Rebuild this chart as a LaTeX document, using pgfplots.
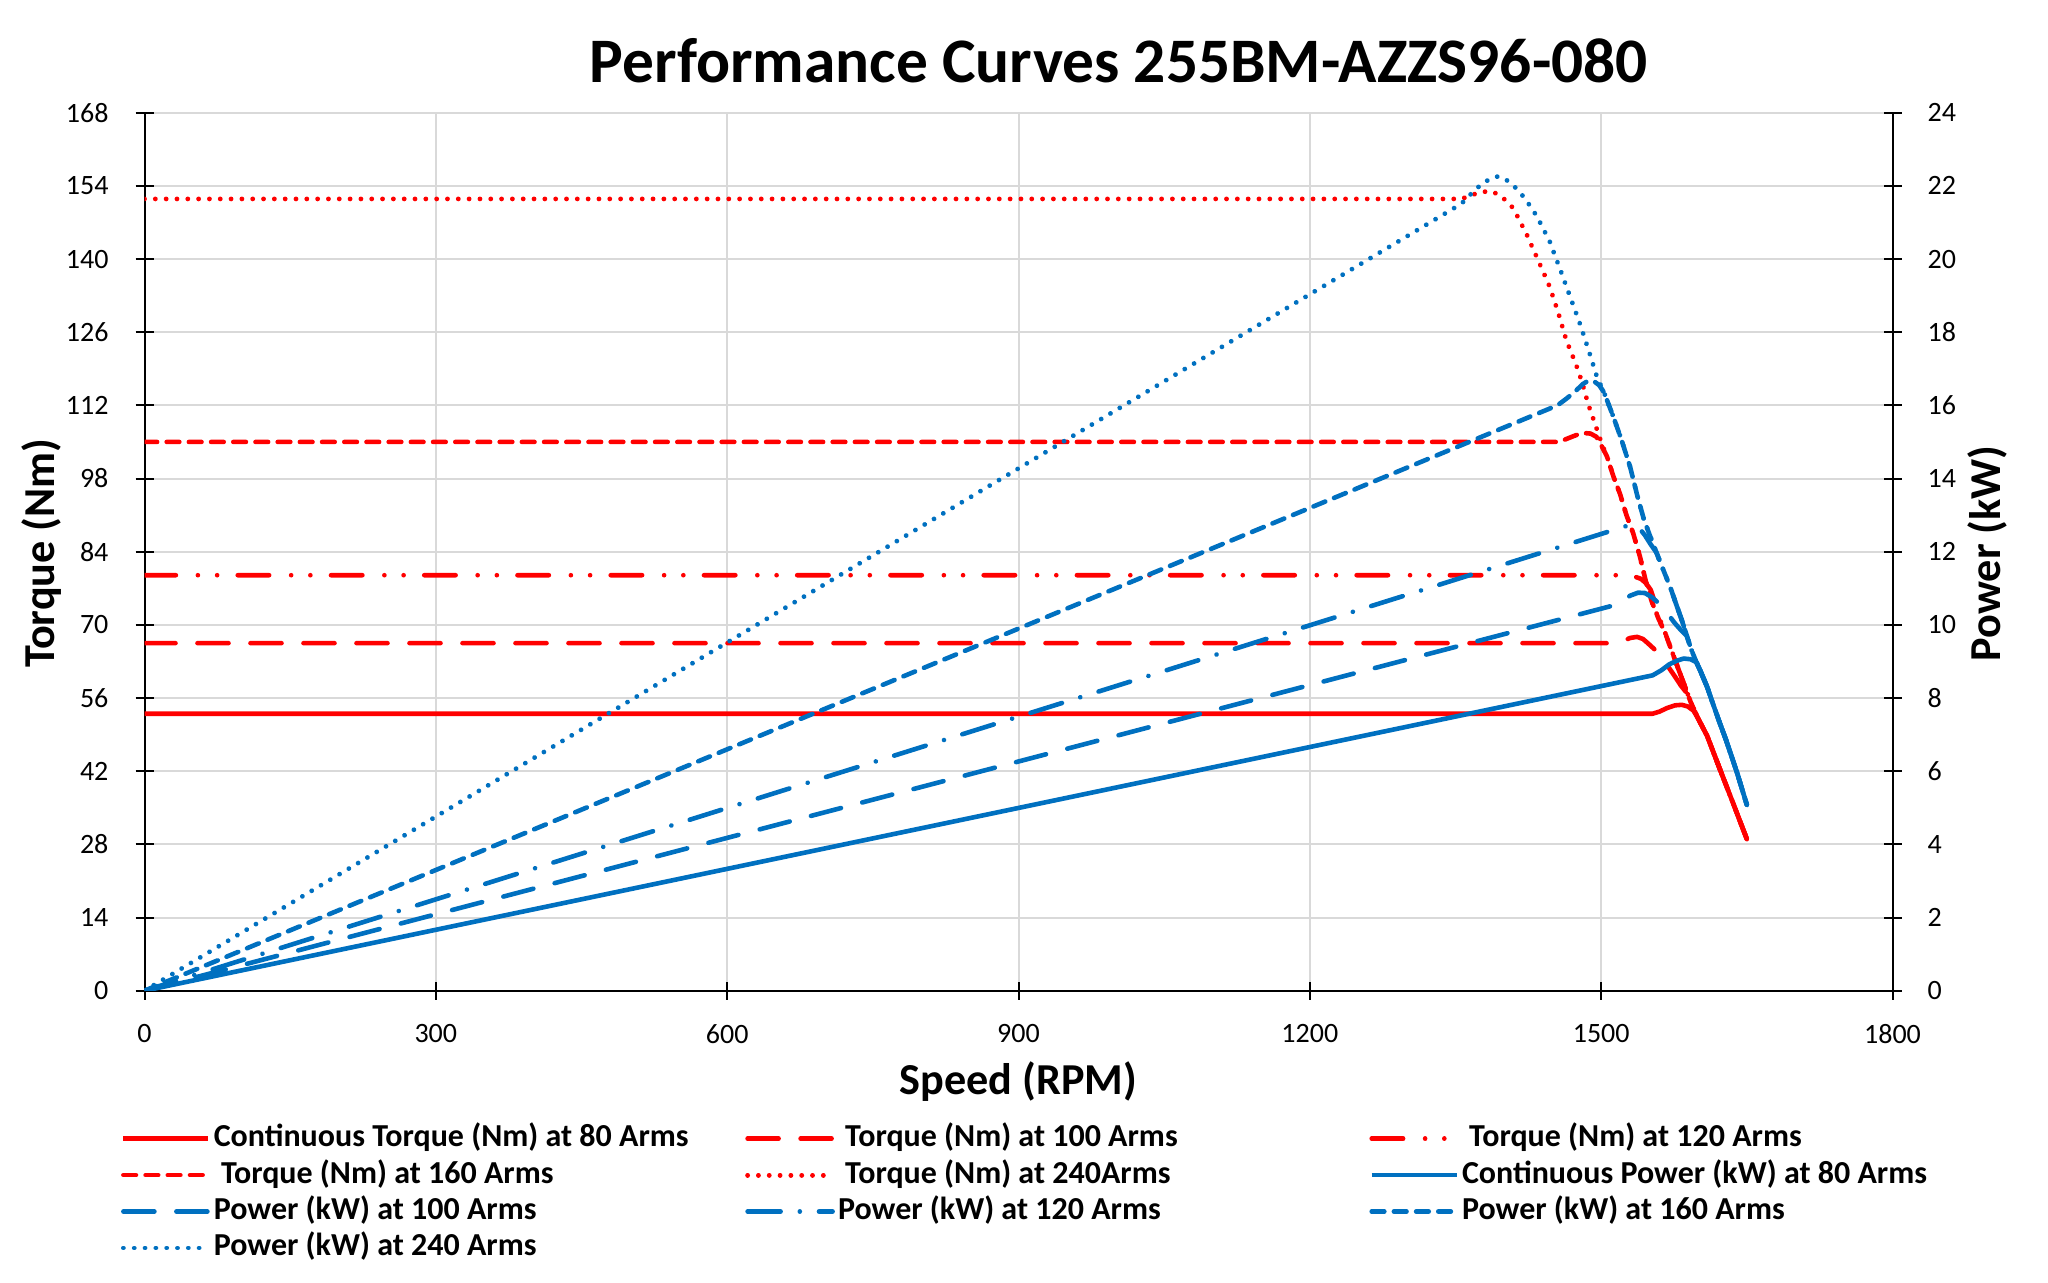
\documentclass[border=0pt]{standalone}
\usepackage{fontspec}
\setmainfont{Carlito}
\usepackage{pgfplots}
\pgfplotsset{compat=1.18}

\definecolor{tred}{HTML}{FF0000}
\definecolor{pblue}{HTML}{0070C0}
\definecolor{gridgray}{HTML}{D9D9D9}

\tikzset{
  s80/.style={line width=2.3pt, line join=round},
  s100/.style={line width=2.3pt, line cap=round, line join=round, dash pattern=on 15.5pt off 11pt},
  s120t/.style={line width=2.3pt, line cap=round, line join=round, dash pattern=on 15.7pt off 11pt on 0.01pt off 9.6pt on 0.01pt off 10.3pt},
  s120p/.style={line width=2.3pt, line cap=round, line join=round, dash pattern=on 16.5pt off 9.6pt on 0.01pt off 9.6pt},
  s160/.style={line width=2.3pt, line cap=round, line join=round, dash pattern=on 6.3pt off 4.8pt},
  s240/.style={line width=2.4pt, line cap=round, line join=round, dash pattern=on 0.01pt off 5.4pt},
}

\pgfplotsset{
  common/.style={
    scale only axis, width=874pt, height=439pt,
    xmin=0, xmax=1800,
    axis line style={-, line width=1pt, black},
    tick align=center, major tick length=9pt,
    tick style={line width=1pt, black},
    tick label style={font=\fontsize{14}{16}\selectfont},
    /pgf/number format/assume math mode=true,
    /pgf/number format/1000 sep={},
  },
}

\newcommand{\lbl}[1]{\makebox[265.7pt][l]{#1}}

\begin{document}
\begin{tikzpicture}
% torque (left axis)
\begin{axis}[common, name=tq,
    ymin=0, ymax=168,
    xtick={0,300,...,1800}, ytick={0,14,...,168},
    axis x line*=bottom, axis y line*=left,
    grid=major, major grid style={line width=1pt, gridgray},
    xticklabel style={yshift=-9pt},
    yticklabel style={xshift=-10pt},
]
\addplot[tred, s80] coordinates {(0,53) (1553,53) (1560,53.4) (1568,54.1) (1576,54.6) (1583,54.7) (1589,54.4) (1595,53.6) (1600,52.0) (1609,48.8) (1622,42.5) (1636,35.8) (1650,29.0)};
\addplot[tred, s100] coordinates {(0,66.5) (1514,66.5) (1522,66.9) (1530,67.5) (1537,67.7) (1543,67.3) (1548,66.5) (1555,65.3) (1562,63.9) (1569,62.0) (1576,60.1) (1582,58.4) (1588,57.0) (1592,55.3) (1600,52.0) (1609,48.8) (1622,42.5) (1636,35.8) (1650,29.0)};
\addplot[tred, s120t] coordinates {(0,79.5) (1521,79.5) (1528,79.4) (1535,79.2) (1541,78.8) (1546,78.0) (1551,76.7) (1555,74.5) (1559,72.0) (1563,69.8) (1566,68.4) (1576,63.3) (1585,58.8) (1592,55.3) (1600,52.0) (1609,48.8) (1622,42.5) (1636,35.8) (1650,29.0)};
\addplot[tred, s160] coordinates {(0,105) (1454,105) (1462,105.4) (1470,106.0) (1477,106.5) (1483,106.7) (1489,106.6) (1495,106.0) (1500,104.4) (1506,102.2) (1512.6,98.4) (1519.5,95.0) (1526,91.0) (1533,87.5) (1540,83.0) (1546,78.3) (1552,74.5) (1559,71.2) (1566,68.4) (1576,63.3) (1585,58.8) (1592,55.3) (1600,52.0) (1609,48.8) (1622,42.5) (1636,35.8) (1650,29.0)};
\addplot[tred, s240] coordinates {(0,151.5) (1356,151.5) (1366,152.2) (1376,152.8) (1386,153.0) (1395,152.3) (1403,151.0) (1409,149.8) (1414,148.1) (1423,144.8) (1435,139.8) (1447,134.7) (1456,129.6) (1464.5,124.2) (1473,120.4) (1480,116.6) (1487,112.0) (1494.7,107.9) (1500,105.0) (1506,102.2) (1512.6,98.4) (1519.5,95.0) (1526,91.0) (1533,87.5) (1540,83.0) (1546,78.3) (1552,74.5) (1559,71.2) (1566,68.4) (1576,63.3) (1585,58.8) (1592,55.3) (1600,52.0) (1609,48.8) (1622,42.5) (1636,35.8) (1650,29.0)};
\end{axis}

% power (right axis)
\begin{axis}[common,
    ymin=0, ymax=24, ytick={0,2,...,24},
    axis y line*=right, axis x line=none,
    yticklabel style={xshift=9.5pt},
    legend columns=3, legend cell align=left,
    legend image code/.code={\draw[#1] (0pt,0pt) -- (42.5pt,0pt);},
    legend style={at={(0,0)}, anchor=north west, xshift=-11.75pt, yshift=-66pt,
      draw=none, fill=none, inner sep=0pt, outer sep=0pt,
      row sep=2.2pt, column sep=0pt,
      font=\bfseries\fontsize{16}{19}\selectfont,
      nodes={inner sep=0pt, text height=12pt, text depth=4pt},
      /tikz/every odd column/.style={column sep=1.5pt}},
]
\addlegendimage{tred, s80}
\addlegendentry{\lbl{Continuous Torque (Nm) at 80 Arms}}
\addlegendimage{tred, s100}
\addlegendentry{\lbl{\ Torque (Nm) at 100 Arms}}
\addlegendimage{tred, s120t}
\addlegendentry{\lbl{\ Torque (Nm) at 120 Arms}}
\addlegendimage{tred, s160}
\addlegendentry{\lbl{\ Torque (Nm) at 160 Arms}}
\addlegendimage{tred, s240}
\addlegendentry{\lbl{\ Torque (Nm) at 240Arms}}

\addplot[pblue, s80] coordinates {(0,0) (1553,8.62) (1562,8.76) (1570,8.92) (1578,9.02) (1585,9.08) (1592,9.06) (1598,8.98) (1602,8.75) (1609,8.31) (1615,7.85) (1621,7.40) (1629,6.82) (1640,5.95) (1650,5.08)};
\addlegendentry{\lbl{Continuous Power (kW) at 80 Arms}}
\addplot[pblue, s100] coordinates {(0,0) (1514,10.54) (1522,10.66) (1530,10.80) (1538,10.88) (1545,10.87) (1552,10.76) (1558,10.62) (1564,10.45) (1570,10.25) (1576,10.04) (1582,9.86) (1588,9.70) (1593,9.31) (1598,8.98) (1602,8.75) (1609,8.31) (1615,7.85) (1621,7.40) (1629,6.82) (1640,5.95) (1650,5.08)};
\addlegendentry{\lbl{Power (kW) at 100 Arms}}
\addplot[pblue, s120p] coordinates {(0,0) (1521,12.66) (1527,12.71) (1533,12.74) (1539,12.65) (1545,12.45) (1551,12.2) (1557,11.97) (1564,11.5) (1571,11.04) (1577,10.58) (1583,10.13) (1588,9.72) (1593,9.31) (1598,8.98) (1602,8.75) (1609,8.31) (1615,7.85) (1621,7.40) (1629,6.82) (1640,5.95) (1650,5.08)};
\addlegendentry{\lbl{Power (kW) at 120 Arms}}
\addplot[pblue, s160] coordinates {(0,0) (1455,16.0) (1465,16.2) (1474,16.4) (1481,16.58) (1487,16.68) (1493,16.65) (1498,16.55) (1503,16.35) (1512.5,15.69) (1521,15.05) (1530,14.30) (1537,13.55) (1544,12.88) (1550,12.45) (1557,11.97) (1564,11.5) (1571,11.04) (1577,10.58) (1583,10.13) (1588,9.72) (1593,9.31) (1598,8.98) (1602,8.75) (1609,8.31) (1615,7.85) (1621,7.40) (1629,6.82) (1640,5.95) (1650,5.08)};
\addlegendentry{\lbl{Power (kW) at 160 Arms}}
\addplot[pblue, s240] coordinates {(0,0) (1356,21.51) (1366,21.78) (1376,22.03) (1386,22.20) (1394,22.26) (1402,22.17) (1410,22.0) (1417,21.8) (1423,21.6) (1434,21.16) (1447,20.48) (1458,19.70) (1468,18.97) (1478,18.24) (1487,17.51) (1495.5,16.79) (1503,16.35) (1512.5,15.69) (1521,15.05) (1530,14.30) (1537,13.55) (1544,12.88) (1550,12.45) (1557,11.97) (1564,11.5) (1571,11.04) (1577,10.58) (1583,10.13) (1588,9.72) (1593,9.31) (1598,8.98) (1602,8.75) (1609,8.31) (1615,7.85) (1621,7.40) (1629,6.82) (1640,5.95) (1650,5.08)};
\addlegendentry{\lbl{Power (kW) at 240 Arms}}
\end{axis}

\node[font=\bfseries\fontsize{31.7}{38}\selectfont] at ([xshift=487.25pt, yshift=25.85pt]tq.north west) {Performance Curves 255BM-AZZS96-080};
\node[font=\bfseries\fontsize{22.1}{27}\selectfont] at ([yshift=-45.5pt]tq.south) {Speed (RPM)};
\node[rotate=90, font=\bfseries\fontsize{22.1}{27}\selectfont] at ([xshift=-51.5pt, yshift=-0.8pt]tq.west) {Torque (Nm)};
\node[rotate=90, font=\bfseries\fontsize{22.1}{27}\selectfont] at ([xshift=47.5pt, yshift=-0.8pt]tq.east) {Power (kW)};
\path[use as bounding box] ([xshift=-72.25pt, yshift=-146.15pt]tq.south west) rectangle ([xshift=77.75pt, yshift=56.35pt]tq.north east);
\end{tikzpicture}
\end{document}
